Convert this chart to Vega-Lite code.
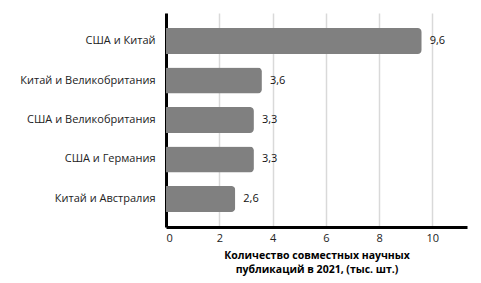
{
  "$schema": "https://vega.github.io/schema/vega-lite/v6.json",
  "autosize": {"type": "none"},
  "padding": {"left": 166, "top": 13, "right": 14, "bottom": 56},
  "width": 301,
  "height": 214,
  "config": {
    "view": {"stroke": null},
    "font": "Open Sans",
    "locale": {"number": {"decimal": ",", "thousands": " ", "grouping": [3], "currency": ["", ""]}}
  },
  "data": {
    "values": [
      {"pair": "США и Китай", "value": 9.6},
      {"pair": "Китай и Великобритания", "value": 3.6},
      {"pair": "США и Великобритания", "value": 3.3},
      {"pair": "США и Германия", "value": 3.3},
      {"pair": "Китай и Австралия", "value": 2.6}
    ]
  },
  "encoding": {
    "y": {
      "field": "pair", "type": "nominal", "sort": null,
      "scale": {"paddingInner": 0.34, "paddingOuter": 0.38},
      "axis": {
        "title": null, "ticks": false, "domainColor": "#000000", "domainWidth": 3,
        "labelFontSize": 11, "labelColor": "#222222", "labelPadding": 11, "labelFont": "Open Sans"
      }
    },
    "x": {
      "field": "value", "type": "quantitative",
      "scale": {"domain": [0, 11.3], "nice": false},
      "axis": {
        "values": [0, 2, 4, 6, 8, 10], "format": "d",
        "grid": true, "gridColor": "#d9d9d9", "gridWidth": 1.5,
        "ticks": false, "domainColor": "#000000", "domainWidth": 3,
        "labelFontSize": 11, "labelColor": "#222222", "labelPadding": 5,
        "title": ["Количество совместных научных", "публикаций в 2021, (тыс. шт.)"],
        "titleFontSize": 10.5, "titleFontWeight": "bold", "titleColor": "#000000",
        "titlePadding": 7, "titleLineHeight": 14
      }
    }
  },
  "layer": [
    {"mark": {"type": "bar", "color": "#808080", "cornerRadiusEnd": 4}},
    {
      "mark": {"type": "text", "align": "left", "dx": 8, "fontSize": 11, "color": "#111111"},
      "encoding": {"text": {"field": "value", "type": "quantitative", "format": ".1f"}}
    }
  ]
}
